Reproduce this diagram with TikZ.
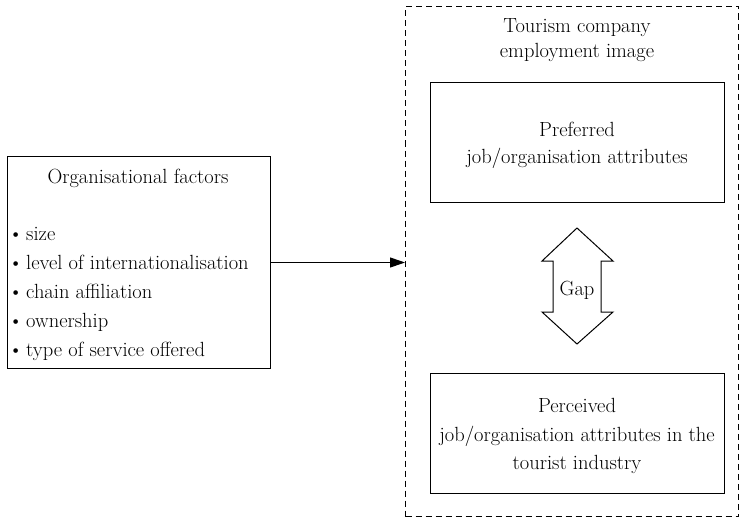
\documentclass[tikz,border=0pt]{standalone}
\usetikzlibrary{arrows.meta}
\begin{document}
\begin{tikzpicture}[x=1pt,y=-1pt,
  box/.style={draw,line width=1pt,inner sep=0pt,anchor=north west},
  txt/.style={font=\rmfamily\fontsize{20.5}{24}\selectfont,inner sep=0pt,anchor=base},
  ltxt/.style={txt,anchor=base west}]
\useasboundingbox (0,0) rectangle (741,519);
% left box
\node[box,minimum width=263pt,minimum height=212pt] (left) at (7,156) {};
\node[txt] (ltitle) at (138,183) {Organisational factors};
\node[ltxt] (b1) at (26,240) {\llap{\textbullet\hspace{3pt}}size};
\node[ltxt] (b2) at (26,269) {\llap{\textbullet\hspace{3pt}}level of internationalisation};
\node[ltxt] (b3) at (26,298) {\llap{\textbullet\hspace{3pt}}chain affiliation};
\node[ltxt] (b4) at (26,327) {\llap{\textbullet\hspace{3pt}}ownership};
\node[ltxt] (b5) at (26,356) {\llap{\textbullet\hspace{3pt}}type of service offered};
% outer dashed box
\node[box,dash pattern=on 6pt off 4pt,minimum width=333pt,minimum height=510pt] (outer) at (405,6) {};
\node[txt] (t1) at (577,33) {Tourism company};
\node[txt] (t2) at (577,58) {employment image};
% preferred box
\node[box,minimum width=294pt,minimum height=120pt] (pref) at (430,82) {};
\node[txt] (p1) at (577,136) {Preferred};
\node[txt] (p2) at (577,163) {job/organisation attributes};
% perceived box
\node[box,minimum width=294pt,minimum height=120pt] (perc) at (430,373) {};
\node[txt] (q1) at (577,412) {Perceived};
\node[txt] (q2) at (577,441) {job/organisation attributes in the};
\node[txt] (q3) at (577,469) {tourist industry};
% gap double arrow
\node[txt] (gap) at (577,295) {Gap};
\draw[line width=1pt,line join=miter] (577,228) -- (613,261) -- (601,261) -- (601,312) -- (613,312) -- (577,344) -- (542,312) -- (553,312) -- (553,261) -- (542,261) -- cycle;
% connector
\draw[line width=1pt,-{Triangle[length=15pt,width=10pt]}] (left.east) -- (left.east -| outer.west);
\end{tikzpicture}
\end{document}
